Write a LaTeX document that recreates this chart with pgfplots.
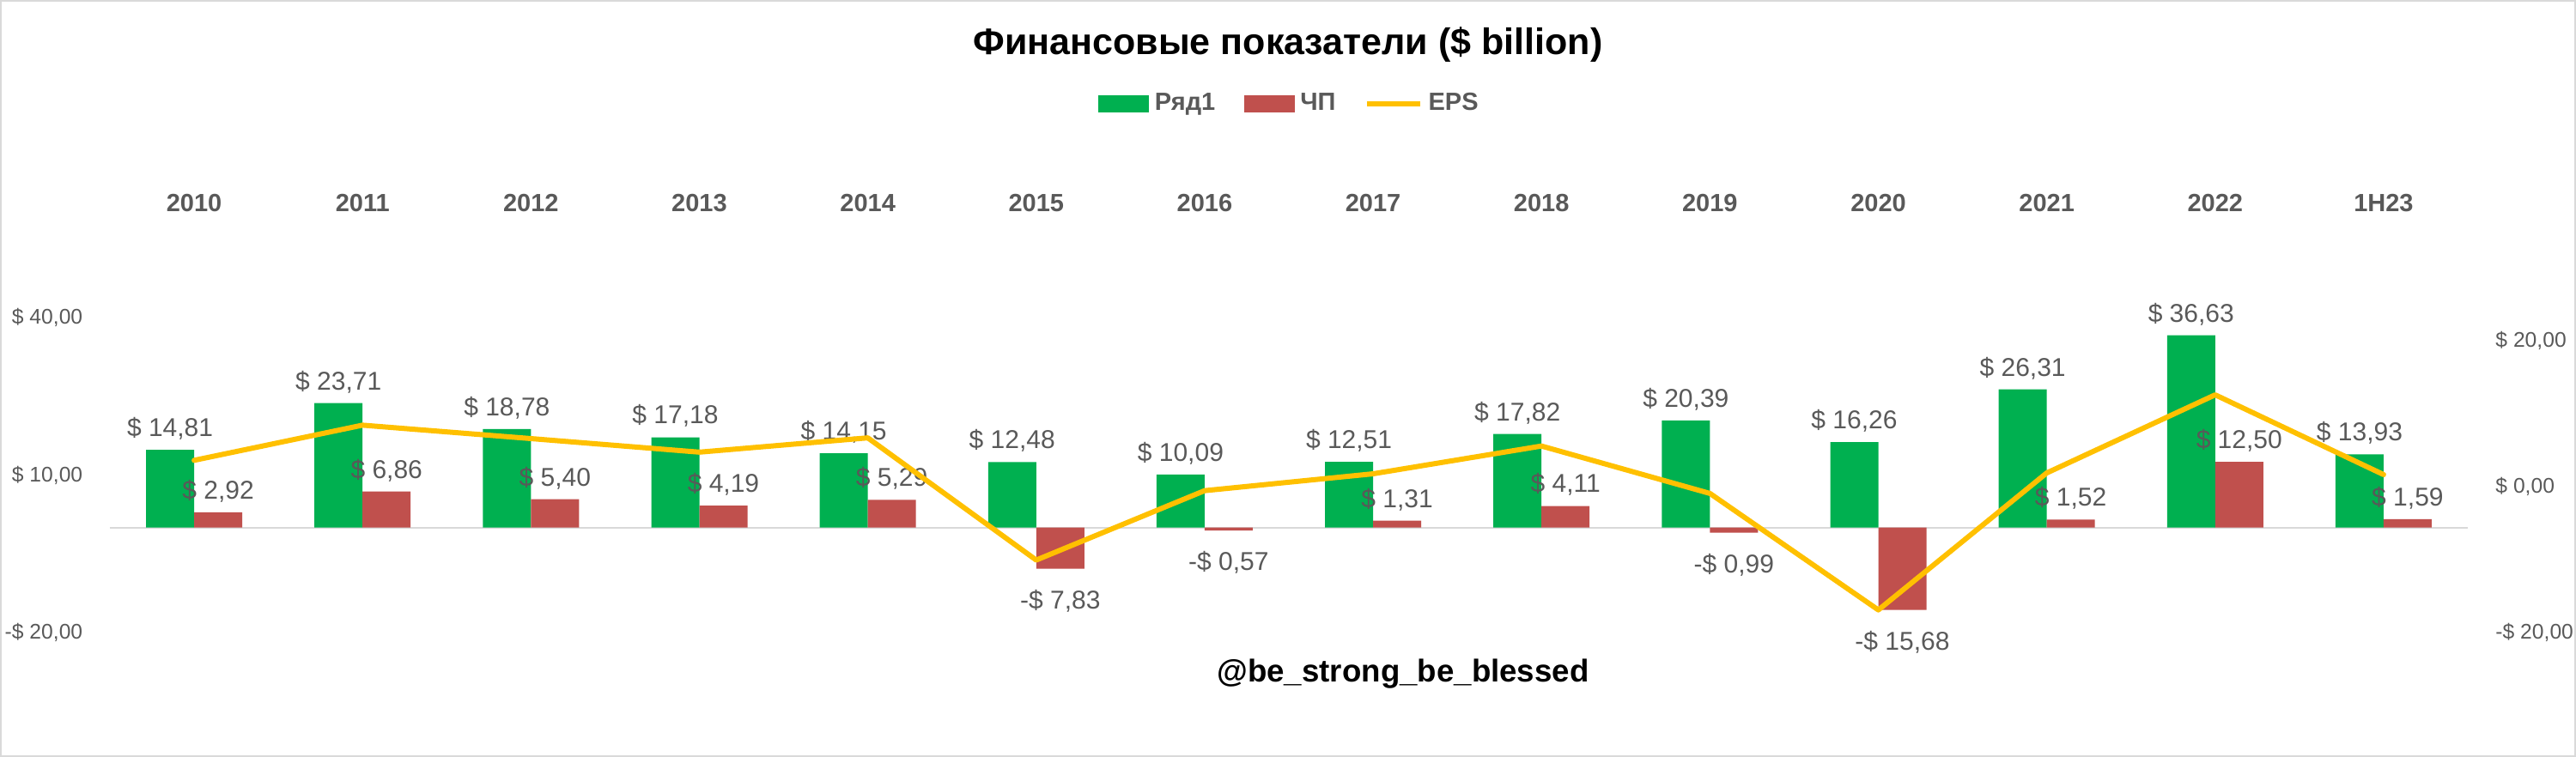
\documentclass[border=0pt]{standalone}
\usepackage{fontspec}
\setmainfont{Liberation Sans}
\usepackage{pgfplots}
\pgfplotsset{compat=1.18}
\usepackage{pgfplotstable}
\definecolor{cgreen}{HTML}{00B050}
\definecolor{cred}{HTML}{C0504D}
\definecolor{cyellow}{HTML}{FFC000}
\definecolor{ctext}{HTML}{595959}
\definecolor{cgrid}{HTML}{D9D9D9}

\pgfplotstableread{
x rev ni eps
0 14.81 2.92 3.62
1 23.71 6.86 8.44
2 18.78 5.40 6.6
3 17.18 4.19 4.74
4 14.15 5.29 6.7
5 12.48 -7.83 -10.06
6 10.09 -0.57 -0.54
7 12.51 1.31 1.77
8 17.82 4.11 5.58
9 20.39 -0.99 -0.92
10 16.26 -15.68 -16.9
11 26.31 1.52 1.89
12 36.63 12.50 12.6
13 13.93 1.59 1.66
}\data

\newcommand\dlab[1]{%
  \pgfmathparse{(#1<0)?1:0}%
  \ifdim\pgfmathresult pt>0.5pt
    -\$ \pgfmathparse{abs(#1)}\pgfmathprintnumber[fixed,fixed zerofill,precision=2,use comma]{\pgfmathresult}%
  \else
    \$ \pgfmathprintnumber[fixed,fixed zerofill,precision=2,use comma]{#1}%
  \fi}

\tikzset{lab/.style={font=\fontsize{9}{10}\selectfont, text=ctext}}
\pgfplotsset{
  /pgf/number format/assume math mode=true,
  common/.style={
    scale only axis, width=823.8pt, height=110.1pt,
    xmin=-0.5, xmax=13.5,
    axis line style={draw=none},
    major tick length=0pt,
  },
}

\begin{document}
\begin{tikzpicture}
\begin{axis}[common,
  ymin=-20, ymax=40,
  ybar=0pt, bar width=16.8pt,
  xtick={0,...,13},
  xticklabels={2010,2011,2012,2013,2014,2015,2016,2017,2018,2019,2020,2021,2022,1H23},
  xticklabel pos=upper,
  xticklabel style={anchor=center, yshift=39.9pt, font=\bfseries\fontsize{8.7}{10}\selectfont, text=ctext},
  ytick={-20,10,40},
  yticklabels={{-\$ 20,00},{\$ 10,00},{\$ 40,00}},
  yticklabel style={font=\fontsize{7.4}{8}\selectfont, text=ctext, xshift=-6pt},
  extra y ticks={0}, extra y tick labels={},
  extra y tick style={grid=major, major grid style={cgrid, line width=0.6pt}},
  legend style={draw=none, fill=none, at={(0.501,1.6785)}, anchor=center,
    font=\bfseries\fontsize{8.7}{10}\selectfont, text=ctext,
    /tikz/every even column/.append style={column sep=8pt}},
  legend columns=3,
]
\addplot[fill=cgreen, draw=none,
  visualization depends on={\thisrow{rev} \as \rawv},
  nodes near coords={\dlab{\rawv}}, every node near coord/.append style={lab},
  legend image code/.code={\fill[cgreen] (0pt,-3pt) rectangle (17.7pt,3pt);}]
  table[x=x, y=rev]{\data};
\addlegendentry{Ряд1}
\addplot[fill=cred, draw=none,
  visualization depends on={\thisrow{ni} \as \rawv},
  nodes near coords={\dlab{\rawv}},
  every node near coord/.append style={lab, yshift={((\rawv<0)*(-3.8))*1pt}},
  legend image code/.code={\fill[cred] (0pt,-3pt) rectangle (17.7pt,3pt);}]
  table[x=x, y=ni]{\data};
\addlegendentry{ЧП}
\addlegendimage{legend image code/.code={\draw[cyellow, line width=1.8pt] (0pt,0pt) -- (18.6pt,0pt);}}
\addlegendentry{EPS}
\end{axis}
\begin{axis}[common,
  ymin=-20, ymax=23.2,
  axis y line*=right,
  hide x axis,
  ytick={-20,0,20},
  yticklabels={{-\$ 20,00},{\$ 0,00},{\$ 20,00}},
  yticklabel style={font=\fontsize{7.4}{8}\selectfont, text=ctext, xshift=6.2pt},
]
\addplot[cyellow, line width=1.8pt, line cap=round, line join=round, mark=none]
  table[x=x, y=eps]{\data};
\end{axis}
\node[font=\bfseries\fontsize{12.9}{15}\selectfont] at (411.6pt,205.5pt) {Финансовые показатели (\$ billion)};
\node[font=\bfseries\fontsize{11}{13}\selectfont] at (451.8pt,-14.4pt) {@be\_strong\_be\_blessed};
\draw[cgrid, line width=0.6pt] (-38.1pt,-43.2pt) rectangle (861.3pt,220.8pt);
\pgfresetboundingbox
\path[use as bounding box] (-38.4pt,-43.5pt) rectangle (861.6pt,221.1pt);
\end{tikzpicture}
\end{document}
